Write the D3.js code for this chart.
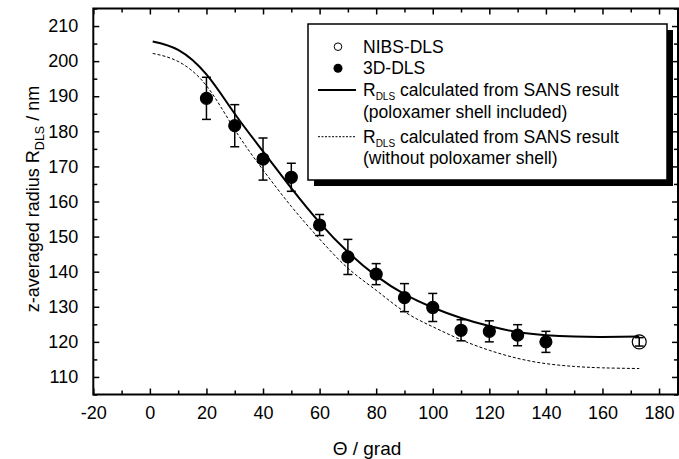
<!DOCTYPE html>
<html>
<head>
<meta charset="utf-8">
<script src="https://cdn.jsdelivr.net/npm/d3@7"></script>
<style>
  body { margin: 0; background: #fff; }
  svg text { font-family: Arial, "Liberation Sans", sans-serif; fill: #000; }
</style>
</head>
<body>
<div id="my_dataviz"></div>
<script>
// 3D-DLS measurements
var angles3D = [20, 30, 40, 50, 60, 70, 80, 90, 100, 110, 120, 130, 140];
var radius3D = [189.4, 181.6, 172.1, 166.9, 153.3, 144.2, 139.3, 132.6, 129.8, 123.3, 123.0, 121.9, 120.0];
var error3D = [6, 6, 6, 4, 3, 5, 3, 4, 4, 3, 3, 3, 3];

// NIBS-DLS measurement (backscattering)
var anglesNIBS = [173];
var radiusNIBS = [120.0];
var errorNIBS = [1.2];

// R_DLS curves calculated from the SANS result
var curveAngles = [1, 10, 20, 30, 40, 50, 60, 70, 80, 90, 100, 110, 120, 130, 140, 150, 160, 173];
var radiusWithShell = [205.6, 203.2, 196.2, 185.0, 174.3, 163.8, 154.0, 145.6, 138.8, 133.6, 129.8, 126.8, 124.5, 122.8, 121.9, 121.5, 121.4, 121.5];
var radiusNoShell = [202.2, 199.9, 193.0, 180.5, 169.0, 158.6, 149.3, 141.0, 134.7, 128.6, 124.3, 120.6, 117.6, 115.3, 113.8, 113.0, 112.6, 112.4];

// axis ticks
var xTicks = [-20, 0, 20, 40, 60, 80, 100, 120, 140, 160, 180];
var xMinorTicks = [-10, 10, 30, 50, 70, 90, 110, 130, 150, 170];
var yTicks = [110, 120, 130, 140, 150, 160, 170, 180, 190, 200, 210];
var yMinorTicks = [105, 115, 125, 135, 145, 155, 165, 175, 185, 195, 205, 215];

var legendLabels = ["NIBS-DLS", "3D-DLS",
    "calculated from SANS result", "(poloxamer shell included)",
    "calculated from SANS result", "(without poloxamer shell)"];

var margin = {top: 8.5, right: 1, bottom: 64.5, left: 93.3};
var dimensions = {width: 679 - margin.left - margin.right, height: 459 - margin.top - margin.bottom};

function initializeSVG(margin, dimensions){
    var svg = d3.select("#my_dataviz")
        .append("svg")
        .attr("width", dimensions.width + margin.left + margin.right)
        .attr("height", dimensions.height + margin.top + margin.bottom)
        .append("g")
        .attr("transform", "translate(" + margin.left + "," + margin.top + ")");
    return svg;
}

function initializeScale(dimensions){
    var x = d3.scaleLinear().domain([-20, 186.7]).range([0, dimensions.width]);
    var y = d3.scaleLinear().domain([105, 215]).range([dimensions.height, 0]);
    return {xScale: x, yScale: y};
}

/**
 * Frame with inward ticks on all four sides, labels on bottom and left only.
 */
function addAxes(svg, dimensions, xScale, yScale){
    var fmt = function(d) { return d; };
    var none = function() { return ""; };

    svg.append("g")
        .attr("transform", "translate(0," + dimensions.height + ")")
        .call(d3.axisBottom(xScale).tickValues(xTicks).tickSize(-6).tickPadding(12).tickFormat(fmt));
    svg.append("g")
        .attr("transform", "translate(0," + dimensions.height + ")")
        .call(d3.axisBottom(xScale).tickValues(xMinorTicks).tickSize(-4).tickFormat(none));

    svg.append("g")
        .call(d3.axisLeft(yScale).tickValues(yTicks).tickSize(-6).tickPadding(15).tickFormat(fmt));
    svg.append("g")
        .call(d3.axisLeft(yScale).tickValues(yMinorTicks).tickSize(-4).tickFormat(none));

    svg.append("g")
        .call(d3.axisTop(xScale).tickValues(xTicks).tickSize(-6).tickFormat(none));
    svg.append("g")
        .call(d3.axisTop(xScale).tickValues(xMinorTicks).tickSize(-4).tickFormat(none));

    svg.append("g")
        .attr("transform", "translate(" + dimensions.width + ",0)")
        .call(d3.axisRight(yScale).tickValues(yTicks).tickSize(-6).tickFormat(none));
    svg.append("g")
        .attr("transform", "translate(" + dimensions.width + ",0)")
        .call(d3.axisRight(yScale).tickValues(yMinorTicks).tickSize(-4).tickFormat(none));

    svg.selectAll(".domain").remove();
    svg.selectAll(".tick line").attr("stroke", "#000").attr("stroke-width", 1.5);
    svg.selectAll(".tick text").style("font-size", "18px").attr("fill", "#000");

    // frame
    svg.append("rect")
        .attr("width", dimensions.width)
        .attr("height", dimensions.height)
        .attr("fill", "none")
        .attr("stroke", "#000")
        .attr("stroke-width", 2);

    // axis titles
    svg.append("text")
        .attr("x", 367 - margin.left)
        .attr("y", 455 - margin.top)
        .attr("text-anchor", "middle")
        .style("font-size", "19px")
        .text("\u0398 / grad");

    var yl = svg.append("text")
        .attr("transform", "translate(" + (39 - margin.left) + "," + (199 - margin.top) + ") rotate(-90)")
        .attr("text-anchor", "middle")
        .style("font-size", "18px");
    yl.append("tspan").text("z-averaged radius R");
    yl.append("tspan").attr("dy", 5).style("font-size", "12.5px").text("DLS");
    yl.append("tspan").attr("dy", -5).text("  / nm");
}

function displayCurves(svg, xScale, yScale){
    var line = d3.line()
        .x(function(d) { return xScale(d[0]); })
        .y(function(d) { return yScale(d[1]); })
        .curve(d3.curveNatural);

    svg.append("path")
        .datum(d3.zip(curveAngles, radiusNoShell))
        .attr("fill", "none")
        .attr("stroke", "#000")
        .attr("stroke-width", 1)
        .attr("stroke-dasharray", "3,2")
        .attr("d", line);

    svg.append("path")
        .datum(d3.zip(curveAngles, radiusWithShell))
        .attr("fill", "none")
        .attr("stroke", "#000")
        .attr("stroke-width", 2)
        .attr("d", line);
}

function displayPoints(svg, xScale, yScale, angles, radius, error, filled, r){
    var data = d3.zip(angles, radius, error);
    var g = svg.append("g");
    var pts = g.selectAll("g.pt").data(data).enter().append("g");

    // error bars
    pts.append("line")
        .attr("x1", d => xScale(d[0])).attr("x2", d => xScale(d[0]))
        .attr("y1", d => yScale(d[1] - d[2])).attr("y2", d => yScale(d[1] + d[2]))
        .attr("stroke", "#000").attr("stroke-width", 1.5);
    pts.selectAll("line.cap")
        .data(d => [[d[0], d[1] - d[2]], [d[0], d[1] + d[2]]])
        .enter().append("line")
        .attr("x1", d => xScale(d[0]) - 4.5).attr("x2", d => xScale(d[0]) + 4.5)
        .attr("y1", d => yScale(d[1])).attr("y2", d => yScale(d[1]))
        .attr("stroke", "#000").attr("stroke-width", 1.5);

    pts.append("circle")
        .attr("cx", d => xScale(d[0]))
        .attr("cy", d => yScale(d[1]))
        .attr("r", r)
        .attr("fill", filled ? "#000" : "none")
        .attr("stroke", "#000")
        .attr("stroke-width", 1.2);
}

function addLegend(svg){
    var lg = svg.append("g").attr("transform", "translate(" + (308 - margin.left) + "," + (24 - margin.top) + ")");
    var w = 359, h = 156;
    lg.append("rect").attr("x", 6).attr("y", 6).attr("width", w).attr("height", h).attr("fill", "#000");
    lg.append("rect").attr("width", w).attr("height", h).attr("fill", "#fff")
        .attr("stroke", "#000").attr("stroke-width", 1.5);

    var rowY = [22.7, 44.3, 66, 87.7, 112.7, 134.3];
    var tx = 55;

    lg.append("circle").attr("cx", 30).attr("cy", rowY[0]).attr("r", 3.8)
        .attr("fill", "#fff").attr("stroke", "#000").attr("stroke-width", 1);
    lg.append("circle").attr("cx", 30).attr("cy", rowY[1]).attr("r", 4.5).attr("fill", "#000");
    lg.append("line").attr("x1", 10).attr("x2", 48).attr("y1", rowY[2]).attr("y2", rowY[2])
        .attr("stroke", "#000").attr("stroke-width", 2);
    lg.append("line").attr("x1", 10).attr("x2", 48).attr("y1", rowY[4]).attr("y2", rowY[4])
        .attr("stroke", "#000").attr("stroke-width", 1).attr("stroke-dasharray", "2,1.5");

    legendLabels.forEach(function(label, i){
        var t = lg.append("text")
            .attr("x", tx)
            .attr("y", rowY[i] + 6)
            .style("font-size", "17.5px");
        if (i === 2 || i === 4) {
            t.append("tspan").text("R");
            t.append("tspan").attr("dy", 4).style("font-size", "10px").text("DLS");
            t.append("tspan").attr("dy", -4).text(" " + label);
        } else {
            t.text(label);
        }
    });
}

var svg = initializeSVG(margin, dimensions);
var scales = initializeScale(dimensions);
addAxes(svg, dimensions, scales.xScale, scales.yScale);
displayCurves(svg, scales.xScale, scales.yScale);
displayPoints(svg, scales.xScale, scales.yScale, angles3D, radius3D, error3D, true, 6);
displayPoints(svg, scales.xScale, scales.yScale, anglesNIBS, radiusNIBS, errorNIBS, false, 7);
addLegend(svg);
</script>
</body>
</html>
